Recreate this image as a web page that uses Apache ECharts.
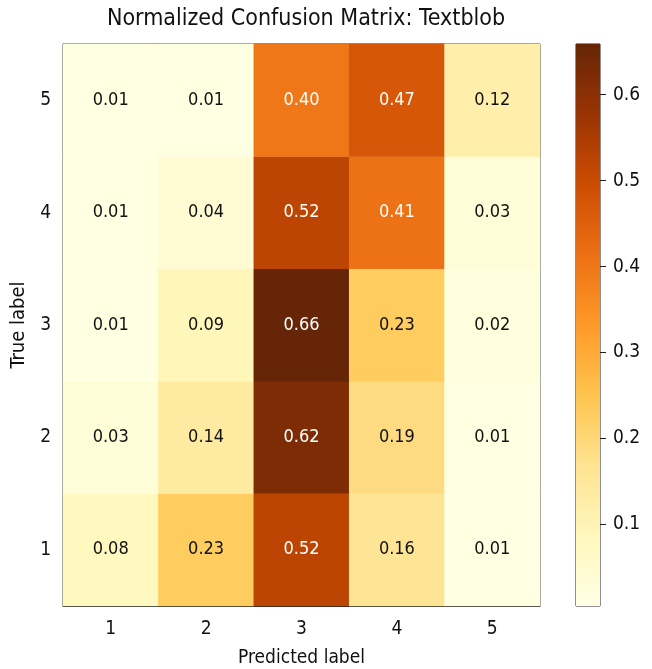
<!DOCTYPE html>
<html><head><meta charset="utf-8">
<script src="https://cdn.jsdelivr.net/npm/echarts@6/dist/echarts.min.js"></script>
<style>html,body{margin:0;padding:0;background:#fff}#c{width:652px;height:669px}</style>
</head><body><div id="c"></div>
<script>
const predictedLabels = ['1','2','3','4','5'];
const trueLabels = ['1','2','3','4','5'];
// rows: true label 1..5, columns: predicted label 1..5
const row1 = [0.08, 0.23, 0.52, 0.16, 0.01];
const row2 = [0.03, 0.14, 0.62, 0.19, 0.01];
const row3 = [0.01, 0.09, 0.66, 0.23, 0.02];
const row4 = [0.01, 0.04, 0.52, 0.41, 0.03];
const row5 = [0.01, 0.01, 0.40, 0.47, 0.12];
const colorbarTicks = [0.1, 0.2, 0.3, 0.4, 0.5, 0.6];
const vMin = 0.005, vMax = 0.659;
const ylorbr = ['#ffffe5','#fff7bc','#fee391','#fec44f','#fe9929','#ec7014','#cc4c02','#993404','#662506'];

const rows = [row1,row2,row3,row4,row5];
const data = [];
rows.forEach((r,i)=>r.forEach((v,j)=>data.push([j,i,v])));
const thresh = (vMin+vMax)/2;
const font = '"DejaVu Sans Condensed", "DejaVu Sans", sans-serif';

const chart = echarts.init(document.getElementById('c'));
chart.setOption({
  backgroundColor:'#fff',
  animation:false,
  title:{text:'Normalized Confusion Matrix: Textblob',left:301,top:3,textAlign:'center',
    textStyle:{fontFamily:font,fontWeight:'normal',fontSize:23,color:'#111'}},
  grid:[
    {left:63,top:44,width:477,height:562,show:true,borderColor:'#222',borderWidth:1,backgroundColor:'transparent',outerBoundsMode:'none',containLabel:false},
    {left:576,top:44,width:24,height:562,show:true,borderColor:'#222',borderWidth:1,outerBoundsMode:'none',containLabel:false}
  ],
  xAxis:[
    {type:'category',data:predictedLabels,gridIndex:0,name:'Predicted label',nameLocation:'middle',nameGap:43,
      nameTextStyle:{fontFamily:font,fontSize:19,color:'#111'},
      axisLine:{lineStyle:{color:'#222'}},axisTick:{alignWithLabel:true,length:6,lineStyle:{color:'#222'}},
      axisLabel:{fontFamily:font,fontSize:19,color:'#111',margin:14},splitLine:{show:false}},
    {type:'category',data:['c'],gridIndex:1,show:false}
  ],
  yAxis:[
    {type:'category',data:trueLabels,gridIndex:0,name:'True label',nameLocation:'middle',nameGap:31,
      nameTextStyle:{fontFamily:font,fontSize:20,color:'#111'},
      axisLine:{lineStyle:{color:'#222'}},axisTick:{alignWithLabel:true,length:6,lineStyle:{color:'#222'}},
      axisLabel:{fontFamily:font,fontSize:19,color:'#111',margin:12},splitLine:{show:false}},
    {type:'value',gridIndex:1,position:'right',min:vMin,max:vMax,
      axisLine:{show:false},splitLine:{show:false},
      axisTick:{show:true,length:6,lineStyle:{color:'#222'},customValues:colorbarTicks},
      axisLabel:{fontFamily:font,fontSize:19,color:'#111',margin:13,customValues:colorbarTicks,formatter:v=>v.toFixed(1)}}
  ],
  visualMap:{show:false,min:vMin,max:vMax,seriesIndex:0,dimension:2,inRange:{color:ylorbr}},
  series:[
    {type:'heatmap',xAxisIndex:0,yAxisIndex:0,
      data:data.map(d=>({value:d,label:{color:d[2]>thresh?'#fff':'#111'}})),
      label:{show:true,fontFamily:font,fontSize:18,formatter:p=>p.value[2].toFixed(2)},
      itemStyle:{borderWidth:0},
      emphasis:{disabled:true}},
    {type:'bar',xAxisIndex:1,yAxisIndex:1,data:[vMax],barWidth:'100%',silent:true,
      itemStyle:{color:new echarts.graphic.LinearGradient(0,1,0,0,ylorbr.map((c,i)=>({offset:i/(ylorbr.length-1),color:c})))}}
  ]
});
</script></body></html>
